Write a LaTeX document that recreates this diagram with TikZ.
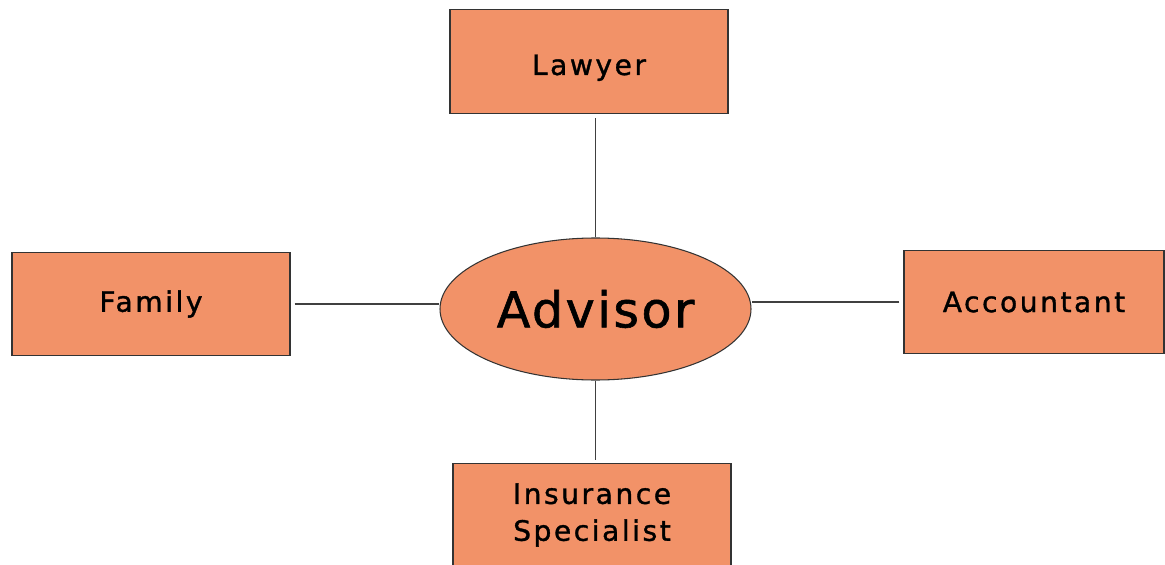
\documentclass[tikz,border=0pt]{standalone}
\usepackage{fontspec}
\setmainfont{DejaVu Sans}
\usetikzlibrary{shapes.geometric, positioning}
\definecolor{salmon}{RGB}{242,146,104}

\begin{document}
\begin{tikzpicture}[
  role/.style={draw=black!80, line width=0.6pt, fill=salmon, inner sep=0pt,
    minimum width=5.56cm, minimum height=2.07cm, align=center,
    font=\fontsize{16}{21}\selectfont\addfontfeatures{LetterSpace=9,FakeBold=1.2}},
  hub/.style={ellipse, draw=black!80, line width=0.6pt, fill=salmon, inner sep=0pt,
    minimum width=6.22cm, minimum height=2.84cm,
    font=\fontsize{28}{32}\selectfont\addfontfeatures{LetterSpace=5,FakeBold=1.2}},
  link/.style={draw=black!75, line width=0.6pt}
]
  \useasboundingbox (0,0) rectangle (23.3,11.28);
  % centre and the four contacts
  \node[hub] (advisor) at (11.91,5.10) {Advisor};
  \node[role, text height=0.62cm, text depth=0.08cm] (lawyer) at (11.78,10.05) {Lawyer};
  \node[role] (family) at (3.02,5.20) {Family};
  \node[role, minimum width=5.2cm] (accountant) at (20.68,5.24) {Accountant};
  \node[role] (insurance) at (11.84,0.98) {Insurance\\Specialist};
  % links
  \draw[link, shorten >=0.08cm] (advisor.north) -- (advisor.north |- lawyer.south);
  \draw[link, shorten <=0.08cm] (family.east) -- (family.east -| advisor.west);
  \draw[link, shorten <=0.08cm] (accountant.west) -- (accountant.west -| advisor.east);
  \draw[link, shorten >=0.06cm] (advisor.south) -- (advisor.south |- insurance.north);
\end{tikzpicture}
\end{document}
